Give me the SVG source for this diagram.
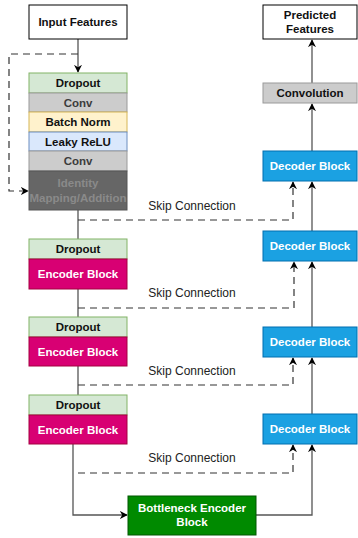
<svg xmlns="http://www.w3.org/2000/svg" width="358" height="538" viewBox="0 0 358 538">
<defs>
<marker id="ah" viewBox="0 0 10 10" refX="9" refY="5" markerWidth="8" markerHeight="8" markerUnits="userSpaceOnUse" orient="auto">
<path d="M0,0 L10,5 L0,10 L3,5 Z" fill="#000"/>
</marker>
</defs>
<style>
text{font-family:"Liberation Sans",Arial,sans-serif;text-anchor:middle;dominant-baseline:central}
.b{font-weight:bold;font-size:11.5px}
.lbl{font-size:12px;fill:#222}
.sol{fill:none;stroke:#555;stroke-width:1.3}
.dsh{fill:none;stroke:#333;stroke-width:1.2;stroke-dasharray:7 5}
.white{fill:#fff;stroke:#000;stroke-width:1}
.drop{fill:#d5e8d4;stroke:#82b366;stroke-width:1}
.conv{fill:#cccccc;stroke:#9a9a9a;stroke-width:1}
.bn{fill:#fff2cc;stroke:#d6b656;stroke-width:1}
.relu{fill:#dae8fc;stroke:#6c8ebf;stroke-width:1}
.idm{fill:#666666;stroke:#555;stroke-width:1}
.enc{fill:#d80073;stroke:#a50040;stroke-width:1}
.dec{fill:#1ba1e2;stroke:#006eaf;stroke-width:1}
.bot{fill:#008a00;stroke:#005700;stroke-width:1}
.tw{fill:#fff}
.tk{fill:#111}
.tg{fill:#3c3c3c}
</style>
<g id="connectors">
<path class="sol" d="M78,39 V72" marker-end="url(#ah)"/>
<path class="dsh" d="M78,54 H9 V191 H28" marker-end="url(#ah)"/>
<path class="sol" d="M78,210 V239"/>
<path class="sol" d="M78,289 V317"/>
<path class="sol" d="M78,366 V395"/>
<path class="dsh" d="M78,220 H293 V182" marker-end="url(#ah)"/>
<path class="dsh" d="M78,308 H294 V262" marker-end="url(#ah)"/>
<path class="dsh" d="M78,385 H293 V358" marker-end="url(#ah)"/>
<path class="dsh" d="M78,473 H293 V445" marker-end="url(#ah)"/>
<path class="sol" d="M73,444 V515 H127" marker-end="url(#ah)"/>
<path class="sol" d="M256,515 H312 V445" marker-end="url(#ah)"/>
<path class="sol" d="M312,414 V358" marker-end="url(#ah)"/>
<path class="sol" d="M312,327 V262" marker-end="url(#ah)"/>
<path class="sol" d="M312,231 V182" marker-end="url(#ah)"/>
<path class="sol" d="M312,151 V104" marker-end="url(#ah)"/>
<path class="sol" d="M312,83 V40" marker-end="url(#ah)"/>
<text class="lbl" x="192" y="206">Skip Connection</text>
<text class="lbl" x="192" y="293">Skip Connection</text>
<text class="lbl" x="192" y="371">Skip Connection</text>
<text class="lbl" x="192" y="458">Skip Connection</text>
</g>
<g id="input"><rect class="white" x="29" y="5" width="98" height="34"/><text class="b tk" x="78" y="22">Input Features</text></g>
<g id="dropout1"><rect class="drop" x="29" y="73" width="98" height="20"/><text class="b tk" x="78" y="83">Dropout</text></g>
<g id="conv1"><rect class="conv" x="29" y="93" width="98" height="19"/><text class="b tg" x="78" y="102.5">Conv</text></g>
<g id="batchnorm"><rect class="bn" x="29" y="112" width="98" height="20"/><text class="b tk" x="78" y="122">Batch Norm</text></g>
<g id="leakyrelu"><rect class="relu" x="29" y="132" width="98" height="19"/><text class="b tk" x="78" y="141.5">Leaky ReLU</text></g>
<g id="conv2"><rect class="conv" x="29" y="151" width="98" height="20"/><text class="b tg" x="78" y="161">Conv</text></g>
<g id="identity"><rect class="idm" x="29" y="171" width="98" height="39"/><text class="b" fill="#8a8a8a" x="78" y="183">Identity</text><text class="b" fill="#8a8a8a" x="78" y="198">Mapping/Addition</text></g>
<g id="dropout2"><rect class="drop" x="29" y="239" width="98" height="20"/><text class="b tk" x="78" y="249">Dropout</text></g>
<g id="encoder2"><rect class="enc" x="29" y="259" width="98" height="30"/><text class="b tw" x="78" y="274">Encoder Block</text></g>
<g id="dropout3"><rect class="drop" x="29" y="317" width="98" height="20"/><text class="b tk" x="78" y="327">Dropout</text></g>
<g id="encoder3"><rect class="enc" x="29" y="337" width="98" height="29"/><text class="b tw" x="78" y="351.5">Encoder Block</text></g>
<g id="dropout4"><rect class="drop" x="29" y="395" width="98" height="20"/><text class="b tk" x="78" y="405">Dropout</text></g>
<g id="encoder4"><rect class="enc" x="29" y="415" width="98" height="29"/><text class="b tw" x="78" y="429.5">Encoder Block</text></g>
<g id="bottleneck"><rect class="bot" x="128" y="496" width="128" height="39"/><text class="b tw" x="192" y="508">Bottleneck Encoder</text><text class="b tw" x="192" y="522">Block</text></g>
<g id="predicted"><rect class="white" x="263" y="5" width="94" height="34"/><text class="b tk" x="310" y="15">Predicted</text><text class="b tk" x="310" y="29">Features</text></g>
<g id="convolution"><rect class="conv" x="263" y="83" width="94" height="20" stroke="#333"/><text class="b tk" x="310" y="93">Convolution</text></g>
<g id="decoder1"><rect class="dec" x="263" y="151" width="94" height="30"/><text class="b tw" x="310" y="166">Decoder Block</text></g>
<g id="decoder2"><rect class="dec" x="263" y="231" width="94" height="30"/><text class="b tw" x="310" y="246">Decoder Block</text></g>
<g id="decoder3"><rect class="dec" x="263" y="327" width="94" height="30"/><text class="b tw" x="310" y="342">Decoder Block</text></g>
<g id="decoder4"><rect class="dec" x="263" y="414" width="94" height="30"/><text class="b tw" x="310" y="429">Decoder Block</text></g>
</svg>
